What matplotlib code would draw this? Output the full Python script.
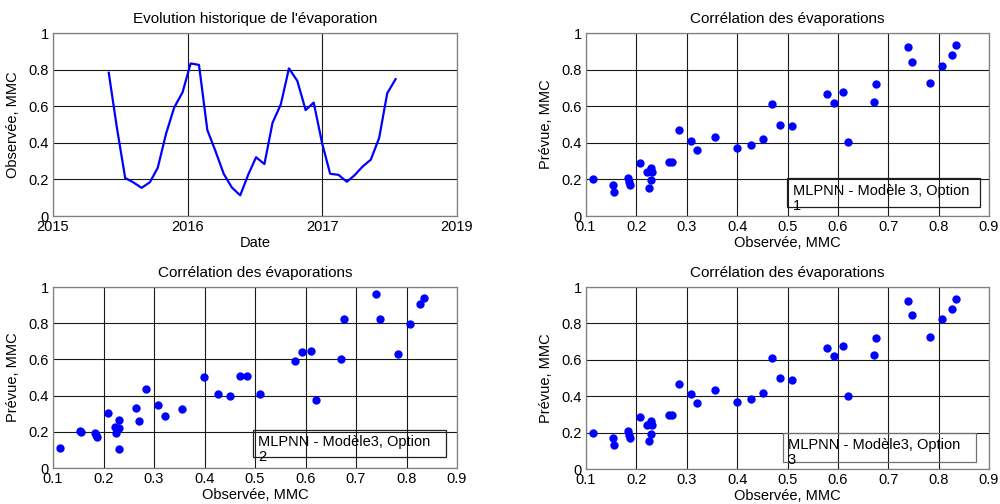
import datetime as dt
import pandas as pd
import matplotlib
matplotlib.use("Agg")
import matplotlib.pyplot as plt
import matplotlib.dates as mdates
from matplotlib.patches import Rectangle

plt.rcParams['font.family'] = ['Liberation Sans', 'DejaVu Sans']
plt.rcParams['font.size'] = 10.5

# monthly evaporation, Aug 2015 -> Jul 2018 (month-end dates)
months = pd.date_range('2015-08-01', periods=36, freq='MS') + pd.offsets.MonthEnd(0)

observed = [0.783, 0.485, 0.208, 0.184, 0.154, 0.185, 0.264, 0.451, 0.593, 0.676,
            0.834, 0.826, 0.470, 0.356, 0.230, 0.156, 0.113, 0.230, 0.321, 0.284,
            0.509, 0.611, 0.807, 0.739, 0.579, 0.620, 0.399, 0.231, 0.225, 0.187,
            0.222, 0.271, 0.308, 0.427, 0.671, 0.748]

# MLPNN model 3 predictions, options 1..3
pred_opt1 = [0.725, 0.500, 0.288, 0.207, 0.168, 0.186, 0.297, 0.420, 0.619, 0.720,
             0.934, 0.879, 0.612, 0.432, 0.263, 0.132, 0.200, 0.195, 0.362, 0.468,
             0.491, 0.676, 0.822, 0.925, 0.667, 0.403, 0.371, 0.241, 0.155, 0.168,
             0.243, 0.297, 0.411, 0.387, 0.624, 0.844]

pred_opt2 = [0.630, 0.508, 0.303, 0.193, 0.202, 0.180, 0.334, 0.400, 0.639, 0.822,
             0.941, 0.905, 0.508, 0.327, 0.266, 0.200, 0.108, 0.105, 0.290, 0.435,
             0.409, 0.647, 0.795, 0.960, 0.592, 0.377, 0.503, 0.220, 0.196, 0.171,
             0.224, 0.259, 0.347, 0.409, 0.601, 0.822]

pred_opt3 = list(pred_opt1)

y_ticks = [0, 0.2, 0.4, 0.6, 0.8, 1]
y_labels = ['0', '0.2', '0.4', '0.6', '0.8', '1']
x_ticks = [0.1, 0.2, 0.3, 0.4, 0.5, 0.6, 0.7, 0.8, 0.9]
x_labels = ['0.1', '0.2', '0.3', '0.4', '0.5', '0.6', '0.7', '0.8', '0.9']

# date axis: 4 ticks 500 days apart, labelled by year
axis_start = dt.datetime(2015, 2, 5)
date_ticks = [axis_start + dt.timedelta(days=500 * k) for k in range(4)]

BLUE = '#0000ff'


def style_axes(ax):
    ax.grid(True, color='#1a1a1a', linewidth=0.8)
    ax.set_axisbelow(True)
    for sp in ax.spines.values():
        sp.set_color('#7f7f7f')
        sp.set_linewidth(0.9)
    ax.tick_params(length=0, pad=3, labelsize=10.5)
    ax.set_ylim(0, 1)
    ax.set_yticks(y_ticks)
    ax.set_yticklabels(y_labels)


def scatter_panel(ax, pred, label, box, edge):
    ax.plot(observed, pred, 'o', color=BLUE, markersize=6, markeredgewidth=0)
    style_axes(ax)
    ax.set_xlim(0.1, 0.9)
    ax.set_xticks(x_ticks)
    ax.set_xticklabels(x_labels)
    ax.set_title('Corrélation des évaporations', fontsize=11, pad=7)
    ax.set_xlabel('Observée, MMC', labelpad=1)
    ax.set_ylabel('Prévue, MMC', labelpad=6)
    x0, y0, x1, y1, tx, ty = box
    ax.add_patch(Rectangle((x0, y0), x1 - x0, y1 - y0, transform=ax.transAxes,
                           fill=False, edgecolor=edge, linewidth=0.9, zorder=5))
    ax.text(tx, ty, label, transform=ax.transAxes, ha='left', va='center',
            linespacing=1.05, zorder=6)


fig = plt.figure(figsize=(10, 5.04), dpi=100)

ax1 = fig.add_axes([0.053, 0.5714, 0.404, 0.363])
ax2 = fig.add_axes([0.586, 0.5714, 0.403, 0.363])
ax3 = fig.add_axes([0.053, 0.0714, 0.404, 0.359])
ax4 = fig.add_axes([0.586, 0.0694, 0.403, 0.361])

# historical series
ax1.plot(months, observed, color=BLUE, linewidth=1.6)
style_axes(ax1)
ax1.set_xlim(date_ticks[0], date_ticks[-1])
ax1.set_xticks(date_ticks)
ax1.xaxis.set_major_formatter(mdates.DateFormatter('%Y'))
ax1.set_title("Evolution historique de l'évaporation", fontsize=11, pad=7)
ax1.set_xlabel('Date', labelpad=1)
ax1.set_ylabel('Observée, MMC', labelpad=6)

scatter_panel(ax2, pred_opt1, 'MLPNN - Modèle 3, Option\n1',
              (0.499, 0.051, 0.978, 0.209, 0.513, 0.097), '#202020')
scatter_panel(ax3, pred_opt2, 'MLPNN - Modèle3, Option\n2',
              (0.496, 0.059, 0.974, 0.210, 0.507, 0.101), '#202020')
scatter_panel(ax4, pred_opt3, 'MLPNN - Modèle3, Option\n3',
              (0.488, 0.040, 0.968, 0.196, 0.500, 0.092), '#707070')

fig.savefig('out.png', dpi=100, facecolor='white')
